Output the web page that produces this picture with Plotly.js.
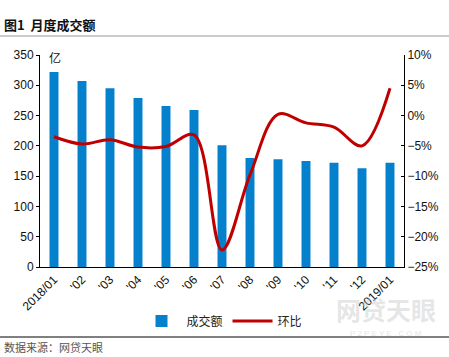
<!DOCTYPE html>
<html><head><meta charset="utf-8">
<script src="https://cdn.plot.ly/plotly-3.0.1.min.js"></script>
<style>body{margin:0;background:#fff}#c{width:449px;height:357px}</style>
</head><body><div id="c"></div>
<script>
const months = ["2018/01","'02","'03","'04","'05","'06","'07","'08","'09","'10","'11","'12","2019/01"];
const volume = [322,307,295,279,266,259,201,180,178,175,172,163,172];
const momPct = [-3.5,-4.7,-4.0,-5.2,-5.1,-3.2,-22.2,-9.8,0.2,-1.2,-1.9,-5.0,4.5];

const cjk = '"Noto Sans CJK SC", sans-serif';
const num = '"Liberation Sans", Arial, sans-serif';

const traces = [
  {type:'bar', x:months, y:volume, name:'成交额', marker:{color:'#0580CC'}, yaxis:'y'},
  {type:'scatter', mode:'lines', x:months, y:momPct, name:'环比', yaxis:'y2',
   line:{color:'#C00000', width:3, shape:'spline', smoothing:1}}
];

const H = 357;
const layout = {
  width:449, height:H,
  margin:{l:40, r:45, t:55, b:90},
  paper_bgcolor:'#fff', plot_bgcolor:'#fff',
  bargap:0.68,
  showlegend:true,
  legend:{orientation:'h', xref:'paper', x:0.5, xanchor:'center', yref:'container', y:1-321/H, yanchor:'middle',
          font:{family:cjk, size:12, color:'#222'}, itemwidth:40, tracegroupgap:0},
  xaxis:{type:'category', range:[-0.5,12.5], tickangle:-45, showline:true, linecolor:'#000', linewidth:1,
         ticks:'', tickfont:{family:num, size:12, color:'#111'}, showgrid:false, zeroline:false, automargin:false},
  yaxis:{range:[0,350], dtick:50, showline:true, linecolor:'#000', linewidth:1, ticks:'outside', ticklen:3,
         tickcolor:'#000', showgrid:false, zeroline:false, tickfont:{family:num, size:12, color:'#111'}, automargin:false},
  yaxis2:{overlaying:'y', side:'right', range:[-25,10], dtick:5, showline:true, linecolor:'#000', linewidth:1,
          ticks:'inside', ticklen:3, tickcolor:'#000', showgrid:false, zeroline:false, ticksuffix:'%',
          tickfont:{family:num, size:12, color:'#111'}, automargin:false},
  shapes:[
    {type:'line', xref:'paper', yref:'paper', x0:-40/364, x1:(449-40)/364, y0:1+(55-36)/212, y1:1+(55-36)/212,
     line:{color:'#999', width:1}},
    {type:'line', xref:'paper', yref:'paper', x0:-40/364, x1:(449-40)/364, y0:-(337-267)/212, y1:-(337-267)/212,
     line:{color:'#000', width:1}}
  ],
  annotations:[
    {text:'<b>图1  月度成交额</b>', xref:'paper', yref:'paper', x:-38/364, y:1+(55-24)/212, xanchor:'left', yanchor:'middle',
     showarrow:false, font:{family:cjk, size:13, color:'#111'}},
    {text:'亿', xref:'paper', yref:'paper', x:7/364, y:1-(57-55)/212, xanchor:'left', yanchor:'middle',
     showarrow:false, font:{family:cjk, size:12, color:'#111'}},
    {text:'数据来源：网贷天眼', xref:'paper', yref:'paper', x:-38/364, y:-(347-267)/212, xanchor:'left', yanchor:'middle',
     showarrow:false, font:{family:cjk, size:11, color:'#555'}},
    {text:'<b>网贷天眼</b>', xref:'paper', yref:'paper', x:(386-40)/364, y:-(309-267)/212, xanchor:'center', yanchor:'middle',
     showarrow:false, font:{family:cjk, size:25, color:'rgba(200,200,200,0.45)'}, borderpad:0},
    {text:'P 2 P E Y E . C O M', xref:'paper', yref:'paper', x:(386-40)/364, y:-(333-267)/212, xanchor:'center', yanchor:'middle',
     showarrow:false, font:{family:num, size:8, color:'rgba(200,200,200,0.5)'}, borderpad:0}
  ]
};
Plotly.newPlot('c', traces, layout, {displayModeBar:false, staticPlot:true});
</script></body></html>
